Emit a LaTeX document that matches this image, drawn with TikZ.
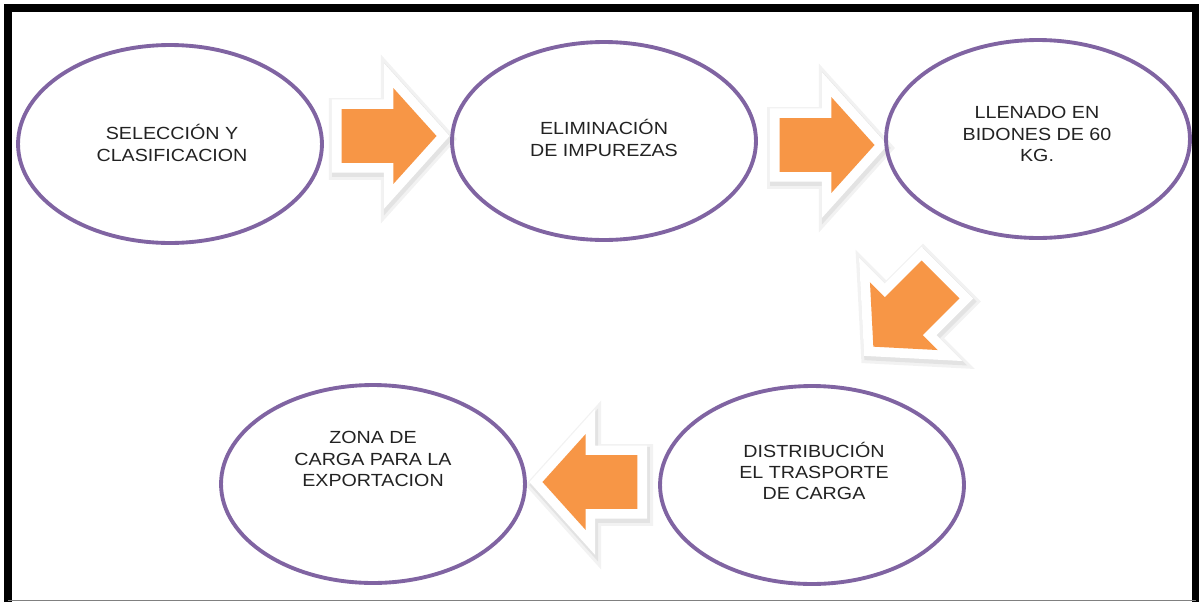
\documentclass[tikz,border=0pt]{standalone}
\usepackage{fontspec}
\setmainfont{Liberation Sans}[FakeStretch=1.12]
\usetikzlibrary{shapes.geometric, shapes.arrows}

\definecolor{lila}{HTML}{8064A2}
\definecolor{naranja}{HTML}{F79646}
\definecolor{texto}{HTML}{222222}

\begin{document}
\begin{tikzpicture}[%
        x = 0.02cm,
        y = -0.02cm,
        line cap = butt,
        etapa/.style = {%
            ellipse,
            draw = lila,
            line width = 2.2pt,
            minimum width = 6.08cm,
            minimum height = 3.96cm
        },
        rotulo/.style = {%
            align = center,
            text = texto,
            inner sep = 0pt,
            font = \fontsize{10}{12.2}\selectfont
        },
        flecha/.style = {%
            single arrow,
            fill = naranja,
            anchor = tip,
            rotate = #1,
            inner sep = 0pt,
            inner ysep = 0.53cm,
            minimum height = 1.9cm,
            single arrow head extend = 0.42cm,
            single arrow tip angle = 96,
            line join = miter,
            preaction = {%
                draw = black!5, fill = black!5, line width = 16pt,
                transform canvas = {shift = {(0.03cm, -0.06cm)}}
            },
            preaction = {%
                draw = black!11, fill = black!11, line width = 12.5pt,
                transform canvas = {shift = {(0.03cm, -0.06cm)}}
            },
            preaction = {draw = white, line width = 11pt}
        }
    ]

        \useasboundingbox (0, 0) rectangle (1199, 602);

        % Frame:
        \draw[line width = 5pt, line join = miter]
            (8, 602) -- (8, 8) -- (1196, 8) -- (1196, 602);
        \draw[gray, line width = 0.6pt] (8, 600.5) -- (1196, 600.5);

        % Block arrows between the stages.
        \node[flecha = 0]   (f1) at (437, 136) {};
        \node[flecha = 0]   (f2) at (875, 145) {};
        \node[flecha = 225] (f3) at (873, 347) {};
        \node[flecha = 180] (f4) at (542, 482) {};

        % Stages:
        \node[etapa] (seleccion)    at (170, 144)  {};
        \node[etapa] (eliminacion)  at (604, 141)  {};
        \node[etapa] (llenado)      at (1038, 139) {};
        \node[etapa] (distribucion) at (812, 485)  {};
        \node[etapa] (zona)         at (373, 484)  {};

        % Labels for the stages.
        \node[rotulo] (t1) at (172, 143) {SELECCIÓN Y\\CLASIFICACION};
        \node[rotulo] (t2) at (604, 138) {ELIMINACIÓN\\DE IMPUREZAS};
        \node[rotulo] (t3) at (1037, 134) {LLENADO EN\\BIDONES DE 60\\KG.};
        \node[rotulo] (t4) at (814, 471) {DISTRIBUCIÓN\\EL TRASPORTE\\DE CARGA};
        \node[rotulo] (t5) at (373, 459) {ZONA DE\\CARGA PARA LA\\EXPORTACION};
    \end{tikzpicture}
\end{document}
